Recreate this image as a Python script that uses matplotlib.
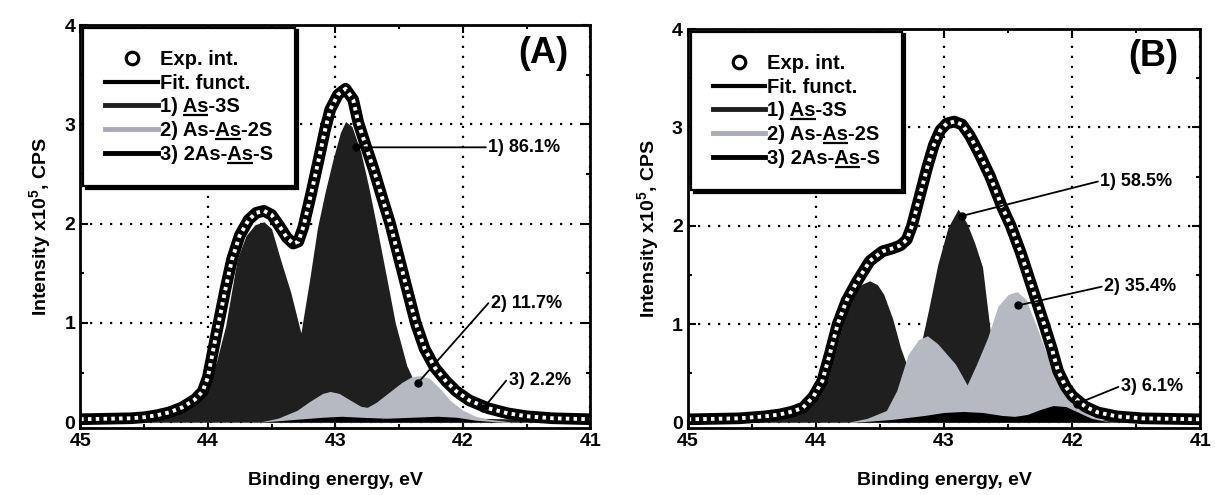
import matplotlib
matplotlib.use("Agg")
import matplotlib.pyplot as plt
from matplotlib.lines import Line2D
from matplotlib.ticker import MultipleLocator
from matplotlib.transforms import IdentityTransform

plt.rcParams['font.family'] = ['Liberation Sans', 'DejaVu Sans']
plt.rcParams['font.weight'] = 'bold'
plt.rcParams['mathtext.fontset'] = 'custom'
plt.rcParams['mathtext.rm'] = 'Liberation Sans:bold'
plt.rcParams['mathtext.default'] = 'rm'

# ---- panel A (binding energy eV, intensity x1e5 CPS)
a_env_e = [45.0, 44.6, 44.5, 44.4, 44.3, 44.2, 44.1, 44.04, 44.0, 43.92, 43.86, 43.81, 43.75, 43.68,
           43.62, 43.56, 43.5, 43.44, 43.38, 43.33, 43.29, 43.25, 43.19, 43.13, 43.08, 43.04, 42.98,
           42.92, 42.86, 42.82, 42.76, 42.7, 42.63, 42.57, 42.5, 42.44, 42.37, 42.3, 42.22, 42.13,
           42.05, 41.95, 41.8, 41.65, 41.5, 41.3, 41.0]
a_env_i = [0.03, 0.04, 0.05, 0.07, 0.10, 0.15, 0.23, 0.31, 0.45, 0.97, 1.35, 1.64, 1.88, 2.04,
           2.11, 2.13, 2.09, 1.98, 1.86, 1.80, 1.82, 1.97, 2.30, 2.65, 2.95, 3.15, 3.30,
           3.36, 3.25, 3.02, 2.78, 2.55, 2.25, 2.00, 1.65, 1.35, 1.00, 0.74, 0.55, 0.41,
           0.31, 0.22, 0.14, 0.09, 0.06, 0.04, 0.03]

a_c1_e = [45.0, 44.6, 44.4, 44.3, 44.2, 44.1, 44.0, 43.93, 43.86, 43.77, 43.7, 43.63, 43.56, 43.5,
          43.43, 43.35, 43.27, 43.2, 43.14, 43.08, 43.02, 42.96, 42.92, 42.87, 42.8, 42.74, 42.68,
          42.6, 42.53, 42.44, 42.35, 42.25, 42.1, 41.9, 41.0]
a_c1_i = [0.02, 0.03, 0.05, 0.08, 0.13, 0.21, 0.36, 0.62, 0.97, 1.64, 1.88, 1.99, 2.02, 1.95,
          1.64, 1.31, 0.90, 1.45, 1.96, 2.32, 2.64, 2.92, 3.03, 2.98, 2.72, 2.38, 2.00,
          1.47, 1.00, 0.57, 0.32, 0.17, 0.08, 0.04, 0.02]

a_c2_e = [43.6, 43.45, 43.3, 43.2, 43.1, 43.04, 42.97, 42.88, 42.8, 42.75, 42.68, 42.58, 42.48,
          42.4, 42.33, 42.26, 42.18, 42.1, 42.0, 41.9, 41.8, 41.6]
a_c2_i = [0.0, 0.04, 0.12, 0.21, 0.29, 0.31, 0.29, 0.22, 0.16, 0.15, 0.20, 0.30, 0.40,
          0.46, 0.47, 0.44, 0.34, 0.22, 0.12, 0.06, 0.03, 0.0]

a_c3_e = [43.6, 43.3, 43.1, 42.95, 42.8, 42.6, 42.4, 42.2, 42.05, 41.9, 41.7]
a_c3_i = [0.0, 0.03, 0.05, 0.06, 0.05, 0.04, 0.05, 0.06, 0.05, 0.02, 0.0]

# ---- panel B
b_env_e = [45.0, 44.6, 44.4, 44.28, 44.18, 44.1, 44.02, 43.95, 43.89, 43.83, 43.76, 43.68, 43.58,
           43.48, 43.4, 43.34, 43.29, 43.25, 43.19, 43.13, 43.08, 43.03, 42.98, 42.92, 42.86,
           42.8, 42.72, 42.64, 42.55, 42.48, 42.4, 42.31, 42.22, 42.16, 42.11, 42.05, 42.0,
           41.9, 41.8, 41.65, 41.45, 41.0]
b_env_i = [0.03, 0.04, 0.06, 0.08, 0.11, 0.15, 0.26, 0.42, 0.70, 1.00, 1.24, 1.43, 1.64,
           1.74, 1.77, 1.80, 1.86, 2.00, 2.30, 2.60, 2.82, 2.97, 3.04, 3.06, 3.03,
           2.92, 2.72, 2.50, 2.20, 2.00, 1.72, 1.36, 1.00, 0.75, 0.52, 0.36, 0.27,
           0.16, 0.10, 0.06, 0.04, 0.03]

b_c1_e = [45.0, 44.5, 44.3, 44.1, 43.98, 43.91, 43.85, 43.79, 43.72, 43.65, 43.58, 43.52, 43.47,
          43.4, 43.34, 43.29, 43.24, 43.19, 43.12, 43.05, 42.97, 42.89, 42.82, 42.76, 42.7,
          42.64, 42.58, 42.5, 42.4, 42.25, 42.05, 41.8, 41.0]
b_c1_i = [0.02, 0.03, 0.05, 0.10, 0.25, 0.42, 0.70, 1.00, 1.25, 1.40, 1.44, 1.40, 1.30,
          1.05, 0.76, 0.58, 0.55, 0.73, 1.15, 1.60, 1.98, 2.17, 2.02, 1.82, 1.58,
          0.93, 0.62, 0.40, 0.24, 0.12, 0.05, 0.03, 0.02]

b_c2_e = [43.75, 43.6, 43.45, 43.37, 43.28, 43.2, 43.13, 43.05, 42.97, 42.91, 42.82, 42.75,
          42.66, 42.58, 42.5, 42.43, 42.36, 42.28, 42.2, 42.1, 42.04, 41.95, 41.85, 41.7]
b_c2_i = [0.0, 0.04, 0.12, 0.32, 0.69, 0.84, 0.88, 0.80, 0.68, 0.59, 0.38, 0.58,
          0.86, 1.18, 1.30, 1.33, 1.25, 0.98, 0.70, 0.45, 0.32, 0.15, 0.06, 0.0]

b_c3_e = [43.7, 43.4, 43.15, 43.0, 42.85, 42.7, 42.55, 42.45, 42.35, 42.25, 42.15, 42.05,
          41.95, 41.85, 41.7]
b_c3_i = [0.0, 0.03, 0.07, 0.10, 0.11, 0.10, 0.07, 0.06, 0.08, 0.13, 0.17, 0.16,
          0.10, 0.04, 0.0]

x_ticks = [45, 44, 43, 42, 41]
y_ticks = [0, 1, 2, 3, 4]
labels = ['Exp. int.', 'Fit. funct.', '1) As-3S', '2) As-As-2S', '3) 2As-As-S']
# index in each label where the underlined "As" starts (None = no underline)
underline_at = [None, None, 3, 6, 7]

# annotations: (text, point on curve, text position)
a_notes = [('1) 86.1%', (42.84, 2.77), (41.80, 2.77)),
           ('2) 11.7%', (42.35, 0.40), (41.78, 1.20)),
           ('3) 2.2%', (41.84, 0.14), (41.64, 0.42))]
b_notes = [('1) 58.5%', (42.86, 2.10), (41.78, 2.45)),
           ('2) 35.4%', (42.42, 1.19), (41.75, 1.38)),
           ('3) 6.1%', (41.96, 0.19), (41.62, 0.36))]

DARK = '#1f1f1f'
GRAY = '#b6b9c2'


def draw_panel(ax, env_e, env_i, c1, c2, c3, notes, tag):
    ax.fill_between(c1[0], c1[1], 0, color=DARK, lw=0, zorder=2)
    ax.fill_between(c2[0], c2[1], 0, color=GRAY, lw=0, zorder=3)
    ax.fill_between(c3[0], c3[1], 0, color='black', lw=0, zorder=4)
    # fit function + chain of open circles of the experimental points
    ax.plot(env_e, env_i, color='black', lw=8.4, solid_joinstyle='round',
            solid_capstyle='butt', zorder=5)
    ax.plot(env_e, env_i, color='white', lw=2.8, ls=(0, (0.9, 1.1)),
            dash_capstyle='butt', zorder=6)

    for txt, p, t in notes:
        ax.plot(*p, marker='o', ms=5, color='black', zorder=7)
        ax.annotate('', xy=p, xytext=(t[0] + 0.02, t[1]),
                    arrowprops=dict(arrowstyle='-', lw=1.3, color='black',
                                    shrinkA=0, shrinkB=0), zorder=7)
        ax.text(t[0], t[1], txt, fontsize=13, fontweight='bold', va='center', ha='left', zorder=7)

    ax.text(41.37, 3.72, tag, fontsize=26, fontweight='bold', ha='center', va='center')

    ax.set_xlim(45, 41)
    ax.set_ylim(-0.06, 4)
    ax.set_xticks(x_ticks)
    ax.set_yticks(y_ticks)
    ax.xaxis.set_minor_locator(MultipleLocator(0.5))
    ax.yaxis.set_minor_locator(MultipleLocator(0.5))
    ax.tick_params(which='both', direction='in', top=True, right=True, width=1.5,
                   labelsize=14)
    ax.tick_params(which='major', length=6)
    ax.tick_params(which='minor', length=3)
    ax.grid(True, which='major', color='black', ls=(0, (1, 3.5)), lw=1.6)
    ax.set_axisbelow(True)
    for s in ax.spines.values():
        s.set_linewidth(2)
        s.set_zorder(8)
    ax.set_xlabel('Binding energy, eV', fontsize=14, fontweight='bold', labelpad=16)
    ax.set_ylabel('Intensity x10$^{5}$, CPS', fontsize=14, fontweight='bold', labelpad=8)

    handles = [Line2D([], [], ls='none', marker='o', ms=9, mfc='white', mec='black', mew=2.3),
               Line2D([], [], color='black', lw=3),
               Line2D([], [], color='#1e1e1e', lw=3.5),
               Line2D([], [], color='#a9acb5', lw=3.5),
               Line2D([], [], color='black', lw=3.5)]
    leg = ax.legend(handles, labels, loc='upper left', bbox_to_anchor=(0.006, 0.994),
                    fontsize=14.5, handlelength=2.6, handletextpad=0.1, labelspacing=0.24,
                    borderpad=1.1, borderaxespad=0, fancybox=False, framealpha=1,
                    edgecolor='black', shadow={'color': 'black', 'alpha': 1})
    leg.get_frame().set_linewidth(1.6)
    leg.set_zorder(9)
    return leg


def underline_legend(fig, leg):
    # underline the "As" that carries the chemical shift, in pixel coordinates
    fig.canvas.draw()
    r = fig.canvas.get_renderer()
    for txt, k in zip(leg.get_texts(), underline_at):
        if k is None:
            continue
        s = txt.get_text()
        prop = txt.get_fontproperties()
        w_a = r.get_text_width_height_descent('A', prop, ismath=False)[0]
        w_to_a = r.get_text_width_height_descent(s[:k + 1], prop, ismath=False)[0]
        w_to_s = r.get_text_width_height_descent(s[:k + 2], prop, ismath=False)[0]
        _, _, desc = r.get_text_width_height_descent(s, prop, ismath=False)
        bb = txt.get_window_extent(r)
        y = bb.y0 + desc - 2.5
        x0 = bb.x0 + w_to_a - w_a
        x1 = bb.x0 + w_to_s
        fig.add_artist(Line2D([x0, x1], [y, y], transform=IdentityTransform(),
                              color='black', lw=1.6, solid_capstyle='butt', zorder=20))


fig = plt.figure(figsize=(12.15, 4.95), dpi=100)
axA = fig.add_axes([0.066, 0.135, 0.42, 0.814])
axB = fig.add_axes([0.566, 0.135, 0.422, 0.806])

legA = draw_panel(axA, a_env_e, a_env_i, (a_c1_e, a_c1_i), (a_c2_e, a_c2_i), (a_c3_e, a_c3_i),
                  a_notes, '(A)')
legB = draw_panel(axB, b_env_e, b_env_i, (b_c1_e, b_c1_i), (b_c2_e, b_c2_i), (b_c3_e, b_c3_i),
                  b_notes, '(B)')
underline_legend(fig, legA)
underline_legend(fig, legB)

fig.savefig('out.png', dpi=100, facecolor='white')
